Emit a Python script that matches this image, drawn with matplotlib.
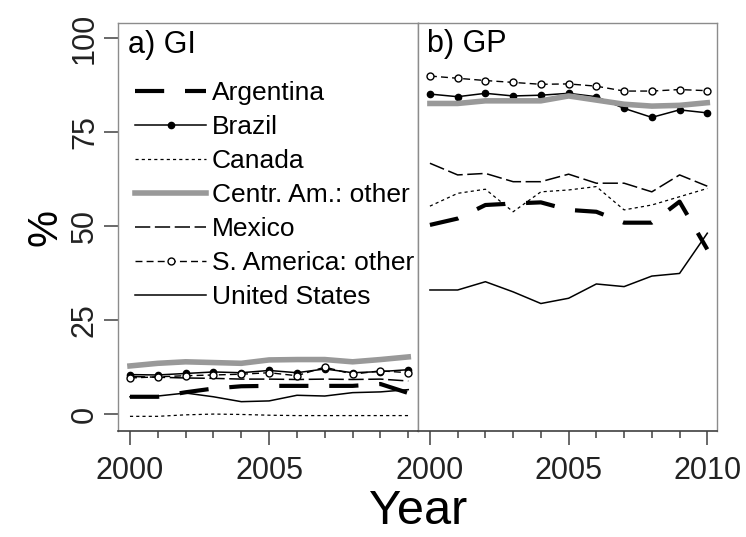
import matplotlib
matplotlib.use("Agg")
import matplotlib.pyplot as plt

years = list(range(2000, 2011))
countries = ["Argentina", "Brazil", "Canada", "Centr. Am.: other",
             "Mexico", "S. America: other", "United States"]

# Panel a) GI  (%)
gi_argentina = [4.6, 4.6, 5.8, 6.8, 7.4, 7.5, 7.5, 7.5, 7.5, 8.0, 5.6]
gi_brazil    = [10.5, 10.4, 10.8, 11.2, 11.0, 11.6, 11.0, 12.0, 11.0, 11.3, 11.8]
gi_canada    = [-0.6, -0.6, -0.2, 0.0, -0.1, -0.3, -0.4, -0.4, -0.4, -0.4, -0.4]
gi_centram   = [12.8, 13.5, 13.9, 13.7, 13.5, 14.4, 14.5, 14.5, 13.9, 14.5, 15.2]
gi_mexico    = [10.0, 9.8, 9.6, 9.5, 9.3, 9.3, 9.2, 9.3, 9.2, 9.3, 8.8]
gi_samerica  = [9.6, 9.9, 10.2, 10.4, 10.6, 11.0, 10.2, 12.5, 10.6, 11.5, 11.0]
gi_us        = [4.6, 4.8, 5.6, 4.6, 3.3, 3.5, 5.0, 4.8, 5.7, 5.9, 6.5]

# Panel b) GP  (%)
gp_argentina = [50.3, 52.0, 55.6, 56.0, 56.3, 54.3, 53.8, 50.9, 50.9, 56.5, 43.8]
gp_brazil    = [85.1, 84.4, 85.3, 84.6, 84.8, 85.3, 84.4, 81.3, 78.9, 80.9, 80.1]
gp_canada    = [55.3, 58.7, 59.8, 53.8, 59.1, 59.6, 60.5, 54.3, 55.6, 57.8, 60.0]
gp_centram   = [82.6, 82.6, 83.3, 83.3, 83.3, 84.6, 83.5, 82.4, 81.9, 82.1, 82.8]
gp_mexico    = [66.7, 63.6, 64.0, 61.8, 61.8, 63.8, 61.4, 61.4, 59.1, 63.6, 60.6]
gp_samerica  = [89.9, 89.3, 88.7, 88.2, 87.7, 87.8, 87.2, 85.9, 85.9, 86.3, 86.0]
gp_us        = [33.0, 33.0, 35.2, 32.5, 29.4, 30.8, 34.6, 33.9, 36.7, 37.4, 48.1]

gi_values = [gi_argentina, gi_brazil, gi_canada, gi_centram, gi_mexico, gi_samerica, gi_us]
gp_values = [gp_argentina, gp_brazil, gp_canada, gp_centram, gp_mexico, gp_samerica, gp_us]

panel_titles = ["a) GI", "b) GP"]
y_ticks = [0, 25, 50, 75, 100]

styles = [
    dict(color="black", lw=3.0, dashes=(7, 5)),
    dict(color="black", lw=1.1, marker="o", ms=4.5, mfc="black", mec="black"),
    dict(color="black", lw=0.9, dashes=(2.5, 2.5)),
    dict(color="#999999", lw=4.0),
    dict(color="black", lw=1.1, dashes=(10, 3)),
    dict(color="black", lw=1.0, dashes=(5, 3), marker="o", ms=5, mfc="white", mec="black"),
    dict(color="black", lw=1.1),
]

plt.rcParams["font.family"] = ["Liberation Sans", "DejaVu Sans"]

W, H = 746, 537
fig = plt.figure(figsize=(W / 100, H / 100), dpi=100)

def rect(l, r, t, b):
    return [l / W, 1 - b / H, (r - l) / W, (b - t) / H]

axa = fig.add_axes(rect(118, 418, 23, 431))
axb = fig.add_axes(rect(418, 717, 23, 431), sharey=axa)

for ax, vals in [(axa, gi_values), (axb, gp_values)]:
    for name, v, st in zip(countries, vals, styles):
        ax.plot(years, v, label=name, **st)
    ax.set_xlim(1999.57, 2010.35)
    ax.set_ylim(-4.5, 104.0)
    for s in ["left", "right", "top"]:
        ax.spines[s].set_color("#8c8c8c")
        ax.spines[s].set_linewidth(1.0)
    ax.spines["bottom"].set_color("#404040")
    ax.spines["bottom"].set_linewidth(1.2)
    ax.tick_params(axis="x", which="major", length=10, width=1.1, color="#404040",
                   labelsize=22, pad=8, labelcolor="#222222")
    ax.tick_params(axis="x", which="minor", length=5, width=1.1, color="#404040")

axa.set_xticks([2000, 2005])
axa.set_xticks([2001, 2002, 2003, 2004, 2006, 2007, 2008, 2009, 2010], minor=True)
axb.set_xticks([2000, 2005, 2010])
axb.set_xticks([2001, 2002, 2003, 2004, 2006, 2007, 2008, 2009], minor=True)

axa.set_yticks(y_ticks)
axa.set_yticklabels([str(t) for t in y_ticks], rotation=90, va="center")
axa.tick_params(axis="y", length=10, width=1.1, color="#404040", labelsize=22, pad=3,
                labelcolor="#222222")
axb.tick_params(axis="y", left=False, labelleft=False)

fig.text(128 / W, 1 - 45 / H, panel_titles[0], fontsize=22, va="center", ha="left")
fig.text(427 / W, 1 - 44 / H, panel_titles[1], fontsize=22, va="center", ha="left")

axa.legend(loc="upper left", bbox_to_anchor=(135 / W, 1 - 81 / H),
           bbox_transform=fig.transFigure, frameon=False, fontsize=19,
           handlelength=2.7, handletextpad=0.2, labelspacing=0.38,
           borderpad=0, borderaxespad=0)

fig.text(45 / W, 1 - 228 / H, "%", fontsize=30, rotation=90, va="center", ha="center")
fig.text(418 / W, 1 - 511 / H, "Year", fontsize=35, va="center", ha="center")

fig.savefig("out.png", dpi=100)
